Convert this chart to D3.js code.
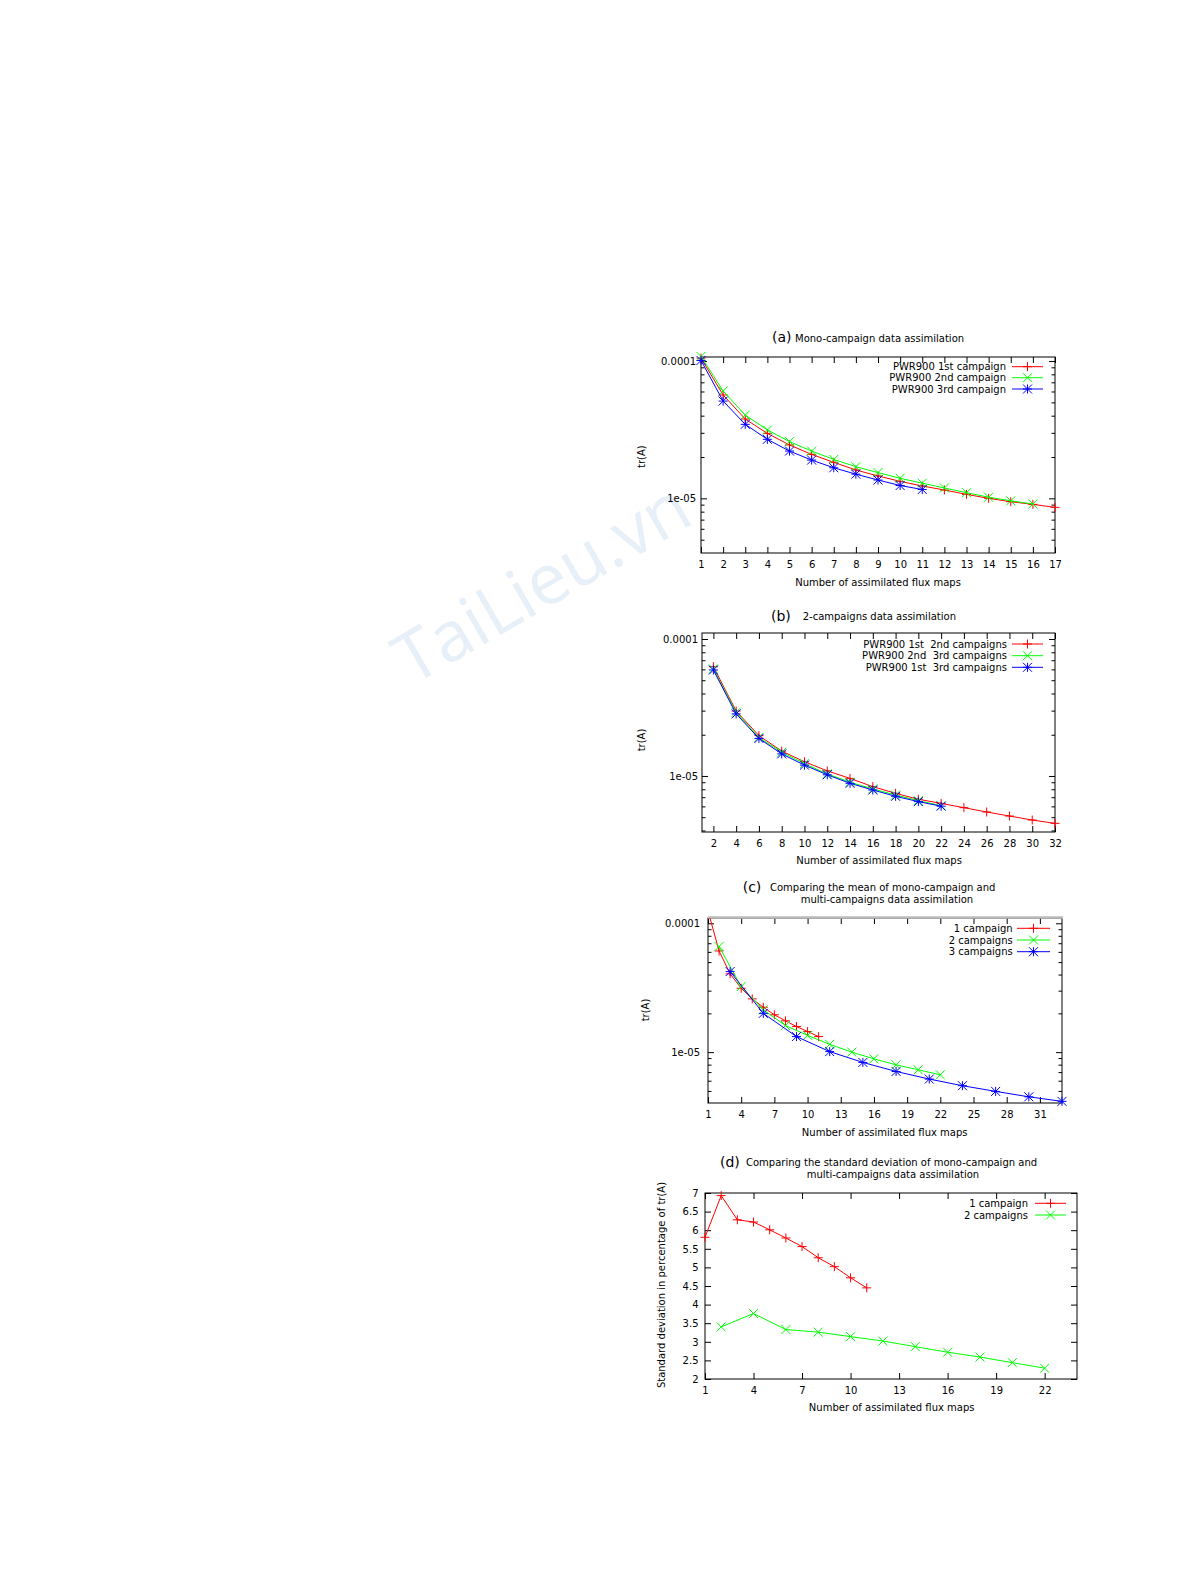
<!DOCTYPE html>
<html><head><meta charset="utf-8">
<script src="https://cdn.jsdelivr.net/npm/d3@7"></script>
<style>
html,body{margin:0;padding:0;background:#fff;}
svg{display:block;font-family:"DejaVu Sans",sans-serif;}
</style></head><body>
<svg id="chart" width="1192" height="1571"></svg>
<script>
// ---------- DATA ----------
// Panel (a): mono-campaign
const aXRed   = [1,2,3,4,5,6,7,8,9,10,11,12,13,14,15,16,17];
const aRed    = [1.05e-4,5.66e-5,3.78e-5,2.97e-5,2.45e-5,2.09e-5,1.83e-5,1.61e-5,1.455e-5,1.33e-5,1.23e-5,1.15e-5,1.07e-5,1.0e-5,9.45e-6,9.04e-6,8.6e-6];
const aXGreen = [1,2,3,4,5,6,7,8,9,10,11,12,13,14,15,16];
const aGreen  = [1.08e-4,6.05e-5,4.04e-5,3.15e-5,2.59e-5,2.21e-5,1.92e-5,1.70e-5,1.54e-5,1.40e-5,1.29e-5,1.19e-5,1.10e-5,1.02e-5,9.6e-6,9.1e-6];
const aXBlue  = [1,2,3,4,5,6,7,8,9,10,11];
const aBlue   = [1.01e-4,5.11e-5,3.46e-5,2.69e-5,2.21e-5,1.90e-5,1.67e-5,1.50e-5,1.36e-5,1.24e-5,1.16e-5];
const aLabels = ["PWR900 1st campaign","PWR900 2nd campaign","PWR900 3rd campaign"];
const aXTicks = [1,2,3,4,5,6,7,8,9,10,11,12,13,14,15,16,17];

// Panel (b): 2-campaigns
const bXRed   = [2,4,6,8,10,12,14,16,18,20,22,24,26,28,30,32];
const bRed    = [6.28e-5,2.98e-5,1.97e-5,1.52e-5,1.27e-5,1.09e-5,9.6e-6,8.36e-6,7.47e-6,6.76e-6,6.31e-6,5.87e-6,5.46e-6,5.1e-6,4.77e-6,4.51e-6];
const bXOther = [2,4,6,8,10,12,14,16,18,20,22];
const bGreen  = [6.04e-5,2.92e-5,1.91e-5,1.49e-5,1.23e-5,1.035e-5,9.0e-6,8.04e-6,7.26e-6,6.6e-6,6.07e-6];
const bBlue   = [5.94e-5,2.84e-5,1.88e-5,1.45e-5,1.20e-5,1.02e-5,8.84e-6,7.9e-6,7.11e-6,6.5e-6,6.02e-6];
const bLabels = ["PWR900 1st  2nd campaigns","PWR900 2nd  3rd campaigns","PWR900 1st  3rd campaigns"];
const bXTicks = [2,4,6,8,10,12,14,16,18,20,22,24,26,28,30,32];

// Panel (c): mean comparison
const cXRed   = [1,2,3,4,5,6,7,8,9,10,11];
const cRed    = [1.25e-4,6.1e-5,4.05e-5,3.13e-5,2.59e-5,2.23e-5,1.95e-5,1.75e-5,1.58e-5,1.445e-5,1.32e-5];
const cXGreen = [2,4,6,8,10,12,14,16,18,20,22];
const cGreen  = [6.6e-5,3.23e-5,2.13e-5,1.61e-5,1.35e-5,1.15e-5,1.0e-5,8.87e-6,7.97e-6,7.3e-6,6.67e-6];
const cXBlue  = [3,6,9,12,15,18,21,24,27,30,33];
const cBlue   = [4.22e-5,2.0e-5,1.32e-5,1.01e-5,8.32e-6,7.08e-6,6.18e-6,5.49e-6,4.96e-6,4.5e-6,4.15e-6];
const cLabels = ["1 campaign","2 campaigns","3 campaigns"];
const cXTicks = [1,4,7,10,13,16,19,22,25,28,31];

// Panel (d): standard deviation comparison
const dXRed   = [1,2,3,4,5,6,7,8,9,10,11];
const dRed    = [5.81,6.93,6.28,6.22,6.01,5.79,5.56,5.26,5.02,4.72,4.45];
const dXGreen = [2,4,6,8,10,12,14,16,18,20,22];
const dGreen  = [3.40,3.76,3.33,3.26,3.14,3.02,2.87,2.72,2.59,2.44,2.29];
const dLabels = ["1 campaign","2 campaigns"];
const dXTicks = [1,4,7,10,13,16,19,22];
const dYTicks = [2,2.5,3,3.5,4,4.5,5,5.5,6,6.5,7];

const logYTicks = [1e-5,1e-4];
const logYTickLabels = ["1e-05","0.0001"];

const RED="#ff0000", GREEN="#00ff00", BLUE="#0000ff";

// ---------- DRAWING ----------
const svg = d3.select("#chart");

// watermark
svg.append("text")
  .attr("transform","translate(412,686) rotate(-30)")
  .attr("font-family","'Open Sans','DejaVu Sans',sans-serif")
  .attr("font-size",70)
  .attr("fill","#cfe2f1")
  .attr("fill-opacity",0.5)
  .text("TaiLieu.vn");

function markerPath(type, cx, cy, s){
  const p = d3.path();
  if(type==="+"||type==="*"){ p.moveTo(cx-s,cy); p.lineTo(cx+s,cy); p.moveTo(cx,cy-s); p.lineTo(cx,cy+s); }
  if(type==="x"||type==="*"){ p.moveTo(cx-s,cy-s); p.lineTo(cx+s,cy+s); p.moveTo(cx-s,cy+s); p.lineTo(cx+s,cy-s); }
  return p.toString();
}

let clipId = 0;
function drawPanel(cfg){
  const f = cfg.frame;
  const g = svg.append("g");
  const x = d3.scaleLinear().domain(cfg.xDomain).range([f.l,f.r]);
  const y = (cfg.log ? d3.scaleLog() : d3.scaleLinear()).domain(cfg.yDomain).range([f.b,f.t]);

  const fontSize = 10;
  const styleAxis = sel => {
    sel.select(".domain").remove();
    sel.selectAll("line").attr("stroke","#000").attr("stroke-width",1);
    sel.selectAll("text").attr("font-size",fontSize).attr("font-family","'DejaVu Sans',sans-serif").attr("fill","#000");
  };
  g.append("g").attr("transform",`translate(0,${f.b})`)
    .call(d3.axisBottom(x).tickValues(cfg.xTicks).tickFormat(d3.format("d")).tickSize(-6).tickPadding(cfg.xPad))
    .call(styleAxis);
  g.append("g").attr("transform",`translate(0,${f.t})`)
    .call(d3.axisTop(x).tickValues(cfg.xTicks).tickFormat("").tickSize(-6))
    .call(styleAxis);
  const yL = d3.axisLeft(y).tickValues(cfg.yTicks).tickSize(-6).tickPadding(cfg.yPad)
    .tickFormat((d,i)=>cfg.yTickLabels ? cfg.yTickLabels[i] : d3.format("")(d));
  g.append("g").attr("transform",`translate(${f.l},0)`).call(yL).call(styleAxis);
  g.append("g").attr("transform",`translate(${f.r},0)`)
    .call(d3.axisRight(y).tickValues(cfg.yTicks).tickFormat("").tickSize(-6)).call(styleAxis);
  if(cfg.log){
    const [lo,hi] = cfg.yDomain;
    const minors = [];
    for(let dec=1e-7; dec<1e-3; dec*=10){
      for(let k=2;k<=9;k++){ const v=k*dec; if(v>lo*1.02 && v<hi*0.98) minors.push(v); }
    }
    g.append("g").attr("transform",`translate(${f.l},0)`)
      .call(d3.axisLeft(y).tickValues(minors).tickFormat("").tickSize(-3.5)).call(styleAxis);
    g.append("g").attr("transform",`translate(${f.r},0)`)
      .call(d3.axisRight(y).tickValues(minors).tickFormat("").tickSize(-3.5)).call(styleAxis);
  }
  g.append("rect").attr("x",f.l).attr("y",f.t).attr("width",f.r-f.l).attr("height",f.b-f.t)
    .attr("fill","none").attr("stroke","#000").attr("stroke-width",1);
  if(cfg.grayTop){
    g.append("line").attr("x1",f.l).attr("x2",f.r+1).attr("y1",f.t-0.5).attr("y2",f.t-0.5)
      .attr("stroke","#bbbbbb").attr("stroke-width",2.5);
  }

  const cid = "clip"+(clipId++);
  svg.append("clipPath").attr("id",cid).append("rect")
    .attr("x",f.l).attr("y",f.t).attr("width",f.r-f.l).attr("height",f.b-f.t);

  const line = d3.line().x(d=>x(d[0])).y(d=>y(d[1]));
  cfg.series.forEach((s,si)=>{
    const pts = s.x.map((xv,i)=>[xv,s.y[i]]);
    g.append("path").attr("d",line(pts)).attr("fill","none").attr("stroke",s.color)
      .attr("stroke-width",1).attr("clip-path",`url(#${cid})`);
    pts.forEach(p=>{
      const px=x(p[0]), py=y(p[1]);
      if(py < f.t-4 || py > f.b+4) return;
      g.append("path").attr("d",markerPath(s.marker,px,py,4.5)).attr("stroke",s.color)
        .attr("stroke-width",1).attr("fill","none");
    });
    const L = cfg.legend, ry = L.rows[si];
    g.append("text").attr("x",L.textEnd).attr("y",ry+3.6).attr("text-anchor","end")
      .attr("font-size",fontSize).attr("fill","#000").style("white-space","pre").text(s.label);
    g.append("line").attr("x1",L.x0).attr("x2",L.x1).attr("y1",ry).attr("y2",ry)
      .attr("stroke",s.color).attr("stroke-width",1);
    g.append("path").attr("d",markerPath(s.marker,(L.x0+L.x1)/2,ry,4.5)).attr("stroke",s.color)
      .attr("stroke-width",1).attr("fill","none");
  });

  cfg.titles.forEach(t=>{
    g.append("text").attr("x",t.x).attr("y",t.y).attr("font-size",t.size).attr("fill","#000").text(t.text);
  });
  g.append("text").attr("x",cfg.xlabel[0]).attr("y",cfg.xlabel[1]).attr("text-anchor","middle")
    .attr("font-size",fontSize).attr("fill","#000").text("Number of assimilated flux maps");
  g.append("text").attr("transform",`translate(${cfg.ylabel[0]+3.6},${cfg.ylabel[1]}) rotate(-90)`)
    .attr("text-anchor","middle").attr("font-size",fontSize).attr("fill","#000").text(cfg.ylabelText);
}

drawPanel({
  frame:{l:701,r:1055,t:357,b:553}, xDomain:[1,17], yDomain:[4.0e-6,1.07e-4], log:true,
  xTicks:aXTicks, yTicks:logYTicks, yTickLabels:logYTickLabels, xPad:8, yPad:5,
  series:[
    {x:aXRed,y:aRed,color:RED,marker:"+",label:aLabels[0]},
    {x:aXGreen,y:aGreen,color:GREEN,marker:"x",label:aLabels[1]},
    {x:aXBlue,y:aBlue,color:BLUE,marker:"*",label:aLabels[2]}],
  legend:{textEnd:1006,x0:1012,x1:1043,rows:[366.7,377.7,389]},
  titles:[{x:772,y:341.5,size:14,text:"(a)"},{x:795,y:341.5,size:10,text:"Mono-campaign data assimilation"}],
  xlabel:[878,586], ylabel:[641.7,456.7], ylabelText:"tr(A)"
});

drawPanel({
  frame:{l:702,r:1055,t:633,b:832}, xDomain:[1,32], yDomain:[3.9e-6,1.106e-4], log:true,
  xTicks:bXTicks, yTicks:logYTicks, yTickLabels:logYTickLabels, xPad:8, yPad:4,
  series:[
    {x:bXRed,y:bRed,color:RED,marker:"+",label:bLabels[0]},
    {x:bXOther,y:bGreen,color:GREEN,marker:"x",label:bLabels[1]},
    {x:bXOther,y:bBlue,color:BLUE,marker:"*",label:bLabels[2]}],
  legend:{textEnd:1007,x0:1012,x1:1043,rows:[644,655.7,667.3]},
  titles:[{x:771,y:620.5,size:14,text:"(b)"},{x:802.7,y:620,size:10,text:"2-campaigns data assimilation"}],
  xlabel:[879,863.5], ylabel:[641.7,740], ylabelText:"tr(A)"
});

drawPanel({
  frame:{l:708,r:1062,t:918,b:1103}, xDomain:[1,33], yDomain:[4.03e-6,1.099e-4], log:true, grayTop:true,
  xTicks:cXTicks, yTicks:logYTicks, yTickLabels:logYTickLabels, xPad:8, yPad:8,
  series:[
    {x:cXRed,y:cRed,color:RED,marker:"+",label:cLabels[0]},
    {x:cXGreen,y:cGreen,color:GREEN,marker:"x",label:cLabels[1]},
    {x:cXBlue,y:cBlue,color:BLUE,marker:"*",label:cLabels[2]}],
  legend:{textEnd:1012.7,x0:1017,x1:1050,rows:[928.3,940,951.7]},
  titles:[{x:742.7,y:892,size:14,text:"(c)"},{x:770,y:890.5,size:10,text:"Comparing the mean of mono-campaign and"},
          {x:800.7,y:902.5,size:10,text:"multi-campaigns data assimilation"}],
  xlabel:[884.7,1136], ylabel:[645,1010], ylabelText:"tr(A)"
});

drawPanel({
  frame:{l:705,r:1077,t:1193,b:1379}, xDomain:[1,24], yDomain:[2,7], log:false,
  xTicks:dXTicks, yTicks:dYTicks, xPad:8, yPad:6.5,
  series:[
    {x:dXRed,y:dRed,color:RED,marker:"+",label:dLabels[0]},
    {x:dXGreen,y:dGreen,color:GREEN,marker:"x",label:dLabels[1]}],
  legend:{textEnd:1028,x0:1035,x1:1066,rows:[1203.3,1215]},
  titles:[{x:720,y:1167,size:14,text:"(d)"},{x:746,y:1165.5,size:10,text:"Comparing the standard deviation of mono-campaign and"},
          {x:806.7,y:1177.5,size:10,text:"multi-campaigns data assimilation"}],
  xlabel:[891.7,1411], ylabel:[661.7,1285], ylabelText:"Standard deviation in percentage of tr(A)"
});
</script>
</body></html>
